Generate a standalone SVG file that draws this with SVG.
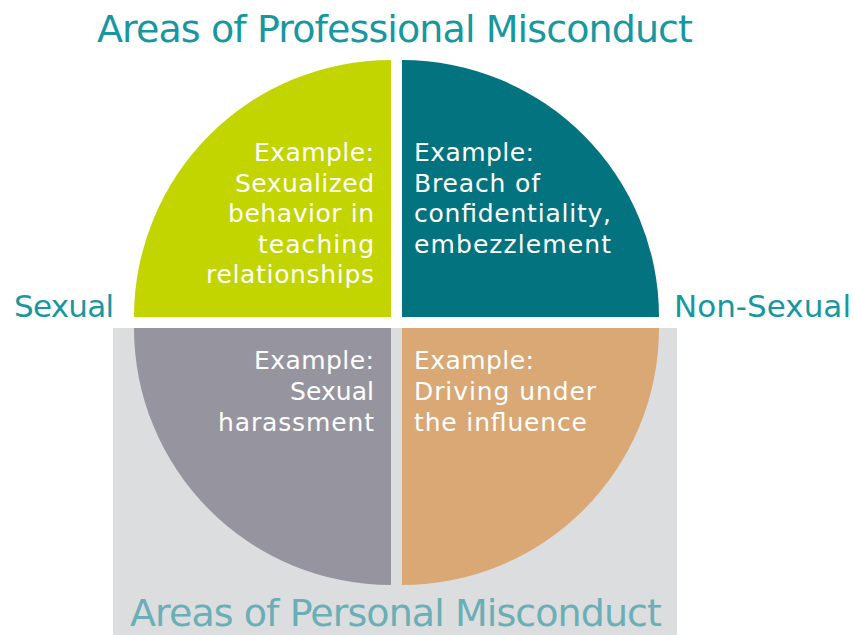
<svg xmlns="http://www.w3.org/2000/svg" width="854" height="635" viewBox="0 0 854 635">
<style>
.q{font-family:"DejaVu Sans","Liberation Sans",sans-serif;font-size:25px;fill:#ffffff}
.e{text-anchor:end}
.t{font-family:"DejaVu Sans","Liberation Sans",sans-serif;fill:#17979F}
</style>
<rect x="0" y="0" width="854" height="635" fill="#ffffff"/>
<rect id="personal-bg" x="113" y="328" width="564" height="307" fill="#DCDDDF"/>
<g id="q-sexual-professional">
<path d="M391 317 L134 317 A257 257 0 0 1 391 60 Z" fill="#C2D500"/>
<text class="q e" x="374" y="161" textLength="120">Example:</text>
<text class="q e" x="374" y="192" textLength="139">Sexualized</text>
<text class="q e" x="374" y="222" textLength="146">behavior in</text>
<text class="q e" x="374" y="253" textLength="116">teaching</text>
<text class="q e" x="374" y="283" textLength="168">relationships</text>
</g>
<g id="q-nonsexual-professional">
<path d="M402 317 L402 60 A257 257 0 0 1 659 317 Z" fill="#037380"/>
<text class="q" x="414" y="161" textLength="120">Example:</text>
<text class="q" x="414" y="192" textLength="126">Breach of</text>
<text class="q" x="414" y="222" textLength="197">confidentiality,</text>
<text class="q" x="414" y="253" textLength="197">embezzlement</text>
</g>
<g id="q-sexual-personal">
<path d="M391 328 L391 585 A257 257 0 0 1 134 328 Z" fill="#96959F"/>
<text class="q e" x="374" y="369" textLength="120">Example:</text>
<text class="q e" x="374" y="400" textLength="84">Sexual</text>
<text class="q e" x="374" y="431" textLength="156">harassment</text>
</g>
<g id="q-nonsexual-personal">
<path d="M402 328 L659 328 A257 257 0 0 1 402 585 Z" fill="#D9A875"/>
<text class="q" x="414" y="369" textLength="120">Example:</text>
<text class="q" x="414" y="400" textLength="182">Driving under</text>
<text class="q" x="414" y="431" textLength="173">the influence</text>
</g>
<g id="labels">
<text class="t" x="97" y="42" font-size="38" textLength="596">Areas of Professional Misconduct</text>
<text class="t" x="14" y="317" font-size="31" textLength="100">Sexual</text>
<text class="t" x="674" y="317" font-size="31" textLength="177">Non-Sexual</text>
<text class="t" x="130" y="626" font-size="38" textLength="532" style="fill:#6AAFB5">Areas of Personal Misconduct</text>
</g>
<g id="connectors"/>
</svg>
